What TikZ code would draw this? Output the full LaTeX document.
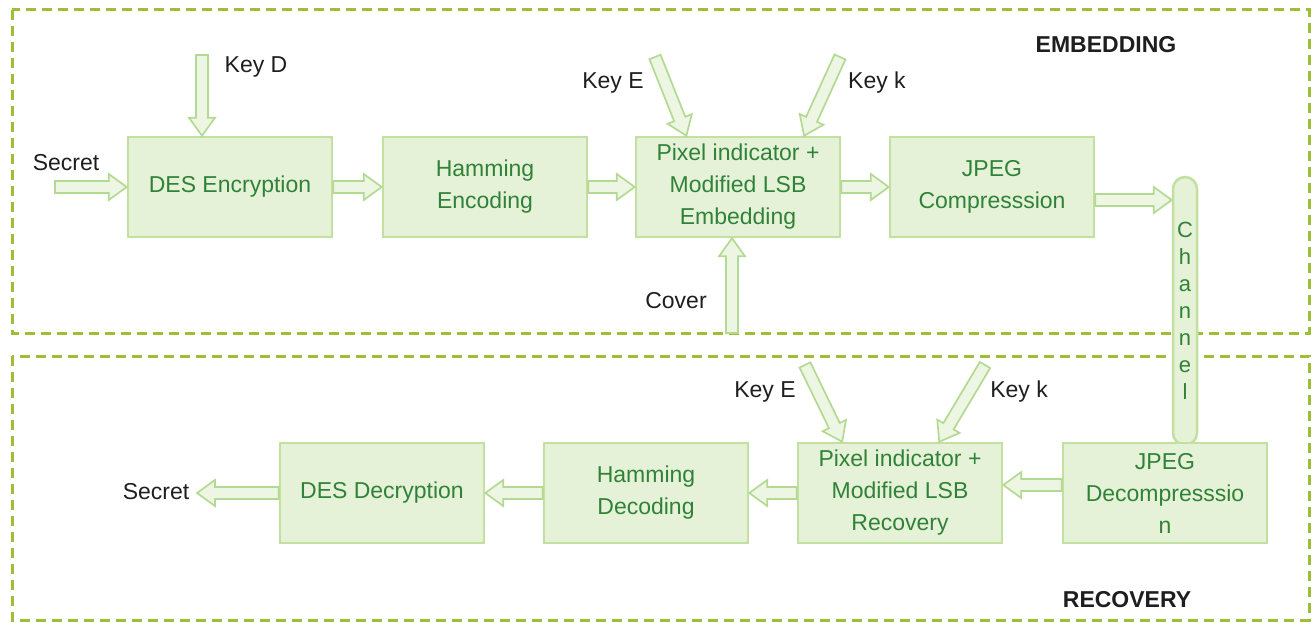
\documentclass[tikz,border=0pt]{standalone}
\usepackage{fontspec}
\setmainfont{Liberation Sans}
\usetikzlibrary{calc}
\definecolor{boxfill}{RGB}{230,242,216}
\definecolor{boxedge}{RGB}{194,225,160}
\definecolor{boxtext}{RGB}{48,130,56}
\definecolor{frameline}{RGB}{158,190,55}
\definecolor{arrowfill}{RGB}{236,246,226}
\definecolor{arrowedge}{RGB}{180,217,146}
\definecolor{lbltext}{RGB}{30,30,30}

\tikzset{
  block/.style={rectangle, draw=boxedge, fill=boxfill, line width=2.5pt, text=boxtext,
    minimum width=204pt, minimum height=100pt, inner sep=0pt, align=center,
    font=\fontsize{23}{32}\selectfont},
  chan/.style={rectangle, rounded corners=12pt, draw=boxedge, fill=boxfill, line width=2.5pt,
    text=boxtext, minimum width=24pt, minimum height=268pt, inner sep=0pt, align=center,
    font=\fontsize{22}{27}\selectfont},
  lbl/.style={text=lbltext, inner sep=0pt, font=\fontsize{23}{27}\selectfont},
  title/.style={text=lbltext, inner sep=0pt, font=\fontsize{23}{27}\selectfont\bfseries},
  dashframe/.style={draw=frameline, line width=3pt, dash pattern=on 10pt off 6pt},
  blockarr/.style={draw=arrowedge, fill=arrowfill, line width=1.7pt,
    to path={($(\tikztostart)!6pt!90:(\tikztotarget)$)
      -- ($(\tikztotarget)!18pt!(\tikztostart)!6pt!90:(\tikztotarget)$)
      -- ($(\tikztotarget)!18pt!(\tikztostart)!13pt!90:(\tikztotarget)$)
      -- (\tikztotarget)
      -- ($(\tikztotarget)!18pt!(\tikztostart)!13pt!-90:(\tikztotarget)$)
      -- ($(\tikztotarget)!18pt!(\tikztostart)!6pt!-90:(\tikztotarget)$)
      -- ($(\tikztostart)!6pt!-90:(\tikztotarget)$) -- cycle}}
}

\begin{document}
\begin{tikzpicture}[x=1pt,y=-1pt]
  \useasboundingbox (0,0) rectangle (1312,623);

  % the two stages
  \draw[dashframe] (12,10) rectangle (1309,333);
  \draw[dashframe] (12,356) rectangle (1309,620);

  \node[chan] (chan) at (1185,311) {C\\h\\a\\n\\n\\e\\l};

  \foreach \x/\y/\nm/\txt in {230/187/des/DES Encryption, 485/187/ham/Hamming\\Encoding,
      738/187/pix/Pixel indicator +\\Modified LSB\\Embedding, 992/187/jpg/JPEG\\Compresssion,
      382/493/dec/DES Decryption, 646/493/hdec/Hamming\\Decoding,
      900/493/prec/Pixel indicator +\\Modified LSB\\Recovery, 1165/493/jdec/JPEG\\Decompresssio\\n}
    \node[block] (\nm) at (\x,\y) {\txt};

  \foreach \x/\y/\nm/\txt in {66/163/secA/Secret, 256/67/keyD/Key D, 613/83/keyE/Key E,
      877/83/keyK/Key k, 676/301/cover/Cover, 765/392/keyE2/Key E, 1019/392/keyK2/Key k,
      156/492/secB/Secret}
    \node[lbl] (\nm) at (\x,\y) {\txt};
  \node[title] (emb) at (1106,45) {EMBEDDING};
  \node[title] (rec) at (1127,600) {RECOVERY};

  % free ends and tips
  \coordinate (secin) at (55,187);
  \coordinate (keyDsrc) at (202,55);
  \coordinate (keyEsrc) at (655,57);
  \coordinate (keyKsrc) at (840,57);
  \coordinate (coversrc) at (732,333);
  \coordinate (keyE2src) at (805,365);
  \coordinate (keyK2src) at (985,365);
  \coordinate (secout) at (197,493);
  \coordinate (keyEtip) at ($(pix.north west)!0.25!(pix.north east)$);
  \coordinate (keyKtip) at ($(pix.north west)!0.82!(pix.north east)$);
  \coordinate (keyE2tip) at ($(prec.north west)!0.22!(prec.north east)$);
  \coordinate (keyK2tip) at ($(prec.north west)!0.69!(prec.north east)$);
  \coordinate (jpgout) at ($(jpg.east)+(0,13)$);
  \coordinate (jdecout) at ($(jdec.west)+(0,-8)$);

  \foreach \a/\b in {secin/des.west, keyDsrc/keyDsrc |- des.north, des.east/ham.west,
      ham.east/pix.west, keyEsrc/keyEtip, keyKsrc/keyKtip, coversrc/coversrc |- pix.south,
      pix.east/jpg.west, jpgout/jpgout -| chan.west, jdecout/jdecout -| prec.east,
      keyE2src/keyE2tip, keyK2src/keyK2tip, prec.west/hdec.east, hdec.west/dec.east,
      dec.west/secout}
    \draw[blockarr] (\a) to (\b);
\end{tikzpicture}
\end{document}
